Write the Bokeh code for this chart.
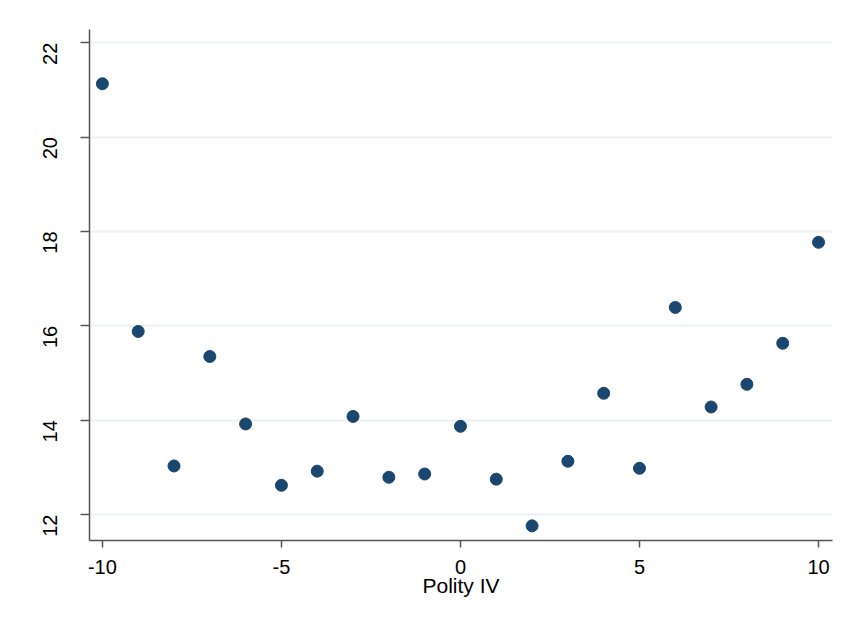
from bokeh.plotting import figure
from bokeh.models import Range1d, FixedTicker, ColumnDataSource
from bokeh.embed import file_html
from bokeh.resources import INLINE
import math

polity = [-10, -9, -8, -7, -6, -5, -4, -3, -2, -1, 0, 1, 2, 3, 4, 5, 6, 7, 8, 9, 10]
values = [21.13, 15.88, 13.03, 15.35, 13.92, 12.62, 12.92, 14.08, 12.79, 12.86,
          13.87, 12.75, 11.76, 13.13, 14.57, 12.98, 16.39, 14.28, 14.76, 15.63, 17.77]
x_ticks = [-10, -5, 0, 5, 10]
y_ticks = [12, 14, 16, 18, 20, 22]
x_label = "Polity IV"

src = ColumnDataSource(dict(x=polity, y=values))

p = figure(width=835, height=620, output_backend="svg", toolbar_location=None,
           x_range=Range1d(-10.36, 10.39), y_range=Range1d(11.45, 22.28),
           min_border_left=89, min_border_right=3, min_border_top=29, min_border_bottom=80)
p.outline_line_color = None
p.background_fill_color = "white"
p.border_fill_color = "white"

p.scatter("x", "y", source=src, size=12, color="#1a476f", line_color="#1a476f")

p.xgrid.visible = False
p.ygrid.ticker = FixedTicker(ticks=y_ticks)
p.ygrid.grid_line_color = "#eaf2f3"
p.ygrid.grid_line_width = 2

FONT = "Liberation Sans"
p.xaxis.ticker = FixedTicker(ticks=x_ticks)
p.yaxis.ticker = FixedTicker(ticks=y_ticks)
p.xaxis.major_label_overrides = {t: str(t) for t in x_ticks}
for ax in (p.xaxis[0], p.yaxis[0]):
    ax.axis_line_color = "#555555"
    ax.axis_line_width = 1.5
    ax.major_tick_line_color = "#555555"
    ax.major_tick_line_width = 1.5
    ax.major_tick_in = 0
    ax.minor_tick_line_color = None
    ax.major_label_text_font = FONT
    ax.major_label_text_font_size = "20px"
    ax.major_label_text_color = "black"

p.xaxis.major_tick_out = 7
p.yaxis.major_tick_out = 9
p.xaxis.major_label_standoff = 12
p.yaxis.major_label_standoff = 30
p.yaxis.major_label_orientation = math.pi / 2

p.xaxis.axis_label = x_label
p.xaxis.axis_label_text_font = FONT
p.xaxis.axis_label_text_font_size = "21px"
p.xaxis.axis_label_text_font_style = "normal"
p.xaxis.axis_label_text_color = "black"
p.xaxis.axis_label_standoff = -3

open("out.html", "w").write(file_html(p, INLINE))
